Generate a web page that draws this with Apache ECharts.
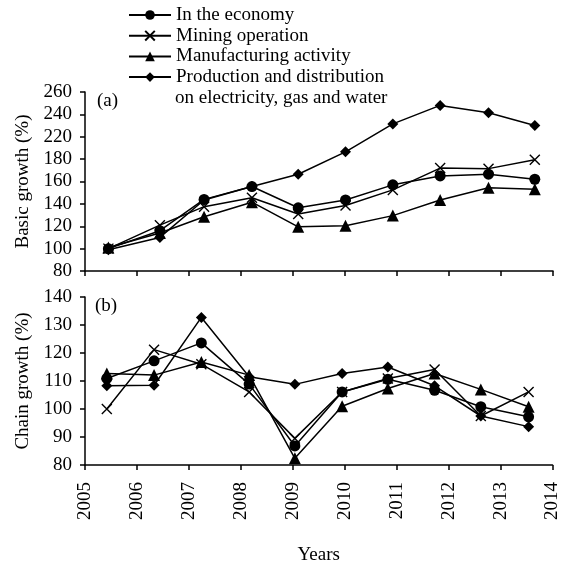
<!DOCTYPE html>
<html>
<head>
<meta charset="utf-8">
<script src="https://cdn.jsdelivr.net/npm/echarts@6/dist/echarts.min.js"></script>
<style>html,body{margin:0;padding:0;background:#fff}#c{width:562px;height:566px}</style>
</head>
<body>
<div id="c"></div>
<script>
// ---- data ----
var seriesNames = ['In the economy', 'Mining operation', 'Manufacturing activity', 'Production and distribution\non electricity, gas and water'];
var xTop = [2005.45, 2006.44, 2007.29, 2008.21, 2009.10, 2010.01, 2010.92, 2011.83, 2012.76, 2013.65];
var xBottom = [2005.42, 2006.33, 2007.24, 2008.16, 2009.04, 2009.95, 2010.83, 2011.73, 2012.62, 2013.54];
var basicEconomy = [100, 116, 144, 155.5, 136.5, 143.5, 157, 165, 166.5, 162];
var basicMining = [100, 121, 137.5, 145.5, 131, 138.5, 152.5, 172, 171.5, 179.5];
var basicManufacturing = [101, 114, 128.5, 141.5, 119.5, 120.5, 129.5, 143.5, 154.5, 153];
var basicElectricity = [99, 110, 143.5, 155.5, 166.5, 186.5, 211.5, 228, 221.5, 210];
var chainEconomy = [110.9, 117.2, 123.6, 108.9, 86.8, 106.1, 110.6, 106.7, 100.8, 97.2];
var chainMining = [100, 121.2, 116, 106.1, 89.5, 106.1, 110.9, 114.1, 97.5, 106.1];
var chainManufacturing = [112.7, 112.1, 116.8, 112.1, 82.4, 101, 107.3, 112.7, 107, 100.8];
var chainElectricity = [108.3, 108.5, 132.7, 111.5, 108.8, 112.7, 115, 108.3, 97.5, 93.7];
var topTickLabels = ['80', '100', '120', '140', '160', '180', '220', '240', '260'];
var bottomTickLabels = ['80', '90', '100', '110', '120', '130', '140'];
var yearTickLabels = ['2005', '2006', '2007', '2008', '2009', '2010', '2011', '2012', '2013', '2014'];

// ---- chart ----
var FONT = 'Liberation Serif';
var FS = 19;
var crossPath = 'path://M0,0 L10,10 M10,0 L0,10';
var symbols = ['circle', crossPath, 'triangle', 'diamond'];
var symSizes = [11, 10, 12, 11];

function pairs(xs, ys) { return xs.map(function (x, i) { return [x, ys[i]]; }); }

var topSets = [basicEconomy, basicMining, basicManufacturing, basicElectricity];
var botSets = [chainEconomy, chainMining, chainManufacturing, chainElectricity];

var series = [];
function addSeries(sets, xs, idx) {
  sets.forEach(function (vals, i) {
    series.push({
      name: seriesNames[i],
      type: 'line',
      xAxisIndex: idx, yAxisIndex: idx,
      data: pairs(xs, vals),
      symbol: symbols[i],
      symbolSize: symSizes[i],
      showAllSymbol: true,
      lineStyle: { color: '#000', width: 1.5 },
      itemStyle: { color: '#000', borderColor: '#000', borderWidth: i === 1 ? 1.4 : 0 },
      emphasis: { disabled: true },
      z: 2 + i
    });
  });
}
addSeries(topSets, xTop, 0);
addSeries(botSets, xBottom, 1);

var axisCommon = {
  axisLine: { show: true, onZero: false, lineStyle: { color: '#000', width: 1.5 } },
  axisTick: { show: true, inside: false, length: 5, lineStyle: { color: '#000', width: 1.5 } },
  splitLine: { show: false }
};
var labelFont = { color: '#000', fontFamily: FONT, fontSize: FS };
var secondLine = seriesNames[3].split('\n')[1];

var option = {
  animation: false,
  backgroundColor: '#fff',
  legend: {
    orient: 'vertical', left: 128, top: 5, itemGap: 0.7, padding: 0,
    itemWidth: 42, itemHeight: 12,
    textStyle: { color: '#000', fontFamily: FONT, fontSize: FS, lineHeight: 20 },
    formatter: function (name) { return name.split('\n')[0]; },
    data: seriesNames.slice(),
    selectedMode: false
  },
  graphic: [
    { type: 'text', left: 175, top: 89, style: { text: secondLine, fill: '#000', font: FS + 'px "Liberation Serif"' } },
    { type: 'text', left: 97, top: 92, style: { text: '(a)', fill: '#000', font: FS + 'px "Liberation Serif"' } },
    { type: 'text', left: 95, top: 297, style: { text: '(b)', fill: '#000', font: FS + 'px "Liberation Serif"' } }
  ],
  grid: [
    { left: 85, top: 92, width: 468, height: 179 },
    { left: 85, top: 297, width: 468, height: 168 }
  ],
  xAxis: [
    Object.assign({ type: 'value', gridIndex: 0, min: 2005, max: 2014, interval: 1,
      axisLabel: { show: false } }, axisCommon),
    Object.assign({ type: 'value', gridIndex: 1, min: 2005, max: 2014, interval: 1,
      name: 'Years', nameLocation: 'middle', nameGap: 81, nameTextStyle: labelFont,
      axisLabel: Object.assign({ rotate: 90, margin: 17,
        formatter: function (v) { return yearTickLabels[Math.round(v - 2005)]; } }, labelFont) }, axisCommon)
  ],
  yAxis: [
    Object.assign({ type: 'value', gridIndex: 0, min: 80, max: 240, interval: 20,
      name: 'Basic growth (%)', nameLocation: 'middle', nameGap: 46, nameRotate: 90, nameTextStyle: labelFont,
      axisLabel: Object.assign({ margin: 13,
        formatter: function (v) { return topTickLabels[Math.round((v - 80) / 20)]; } }, labelFont) }, axisCommon),
    Object.assign({ type: 'value', gridIndex: 1, min: 80, max: 140, interval: 10,
      name: 'Chain growth (%)', nameLocation: 'middle', nameGap: 46, nameRotate: 90, nameTextStyle: labelFont,
      axisLabel: Object.assign({ margin: 13,
        formatter: function (v) { return bottomTickLabels[Math.round((v - 80) / 10)]; } }, labelFont) }, axisCommon)
  ],
  series: series
};

var chart = echarts.init(document.getElementById('c'), null, { renderer: 'canvas' });
chart.setOption(option);
</script>
</body>
</html>
